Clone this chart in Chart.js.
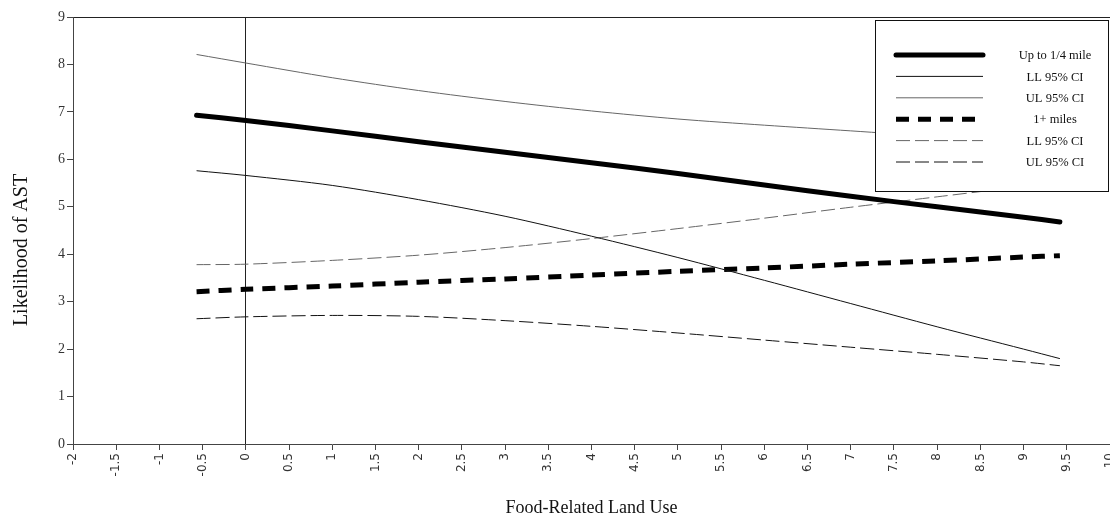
<!DOCTYPE html>
<html>
<head>
<meta charset="utf-8">
<script src="https://cdn.jsdelivr.net/npm/chart.js@4.4.1/dist/chart.umd.min.js"></script>
<style>
  html, body { margin: 0; padding: 0; background: #fff; }
  #wrap { width: 1110px; height: 521px; }
</style>
</head>
<body>
<div id="wrap"><canvas id="chart"></canvas></div>
<script>
// Food-related land use values where the curves were evaluated
const xVals = [-0.57, 0, 1, 2, 3, 4, 5, 6, 7, 8, 9, 9.42];

// Up to 1/4 mile: estimate and 95% CI
const nearEst = [6.93, 6.82, 6.60, 6.37, 6.15, 5.93, 5.70, 5.46, 5.22, 5.00, 4.78, 4.68];
const nearLL  = [5.76, 5.66, 5.45, 5.15, 4.80, 4.38, 3.93, 3.45, 2.96, 2.47, 2.00, 1.80];
const nearUL  = [8.21, 8.03, 7.72, 7.45, 7.22, 7.02, 6.85, 6.72, 6.60, 6.48, 6.38, 6.33];

// 1+ miles: estimate and 95% CI
const farEst = [3.21, 3.26, 3.33, 3.41, 3.48, 3.56, 3.64, 3.71, 3.79, 3.86, 3.94, 3.97];
const farLL  = [3.78, 3.79, 3.87, 3.98, 4.14, 4.33, 4.54, 4.76, 4.99, 5.21, 5.43, 5.52];
const farUL  = [2.64, 2.68, 2.71, 2.69, 2.60, 2.48, 2.34, 2.19, 2.04, 1.89, 1.73, 1.65];

const seriesLabels = ['Up to 1/4 mile', 'LL 95% CI', 'UL 95% CI', '1+ miles', 'LL 95% CI', 'UL 95% CI'];

const yTicks = [0, 1, 2, 3, 4, 5, 6, 7, 8, 9];

function pts(ys) {
    return xVals.map((x, i) => ({ x: x, y: ys[i] }));
}

const serif = "'Liberation Serif', 'Times New Roman', serif";

const datasets = [
    { label: seriesLabels[0], data: pts(nearEst), borderColor: '#000', borderWidth: 5, borderCapStyle: 'round' },
    { label: seriesLabels[1], data: pts(nearLL), borderColor: '#111', borderWidth: 1 },
    { label: seriesLabels[2], data: pts(nearUL), borderColor: '#666', borderWidth: 1 },
    { label: seriesLabels[3], data: pts(farEst), borderColor: '#000', borderWidth: 5, borderDash: [13, 9] },
    { label: seriesLabels[4], data: pts(farLL), borderColor: '#666', borderWidth: 1, borderDash: [14, 5] },
    { label: seriesLabels[5], data: pts(farUL), borderColor: '#111', borderWidth: 1, borderDash: [14, 5] }
].map(d => Object.assign({ pointRadius: 0, fill: false, tension: 0.3 }, d));

// boxed legend in the upper right, like the original figure
const boxLegend = {
    id: 'boxLegend',
    afterDatasetsDraw(chart) {
        const ctx = chart.ctx;
        const area = chart.chartArea;
        const left = area.right - 235, top = area.top + 3, w = 233, h = 171;
        ctx.save();
        ctx.fillStyle = '#fff';
        ctx.fillRect(left, top, w, h);
        ctx.strokeStyle = '#111';
        ctx.lineWidth = 1;
        ctx.strokeRect(left + 0.5, top + 0.5, w, h);
        ctx.font = '12.5px ' + serif;
        ctx.textAlign = 'center';
        ctx.textBaseline = 'middle';
        chart.data.datasets.forEach((ds, i) => {
            const y = top + 35 + i * 21.4;
            ctx.beginPath();
            ctx.strokeStyle = ds.borderColor;
            ctx.lineWidth = ds.borderWidth;
            ctx.lineCap = ds.borderCapStyle || 'butt';
            ctx.setLineDash(ds.borderDash || []);
            ctx.moveTo(left + 21, y);
            ctx.lineTo(left + 108, y);
            ctx.stroke();
            ctx.setLineDash([]);
            ctx.fillStyle = '#111';
            ctx.fillText(ds.label, left + 180, y + 1);
        });
        ctx.restore();
    },
    // y title sits a bit below the middle of the axis in the original
    afterDraw(chart) {
        const ctx = chart.ctx;
        ctx.save();
        ctx.translate(22, 250);
        ctx.rotate(-Math.PI / 2);
        ctx.font = '20px ' + serif;
        ctx.fillStyle = '#111';
        ctx.textAlign = 'center';
        ctx.textBaseline = 'middle';
        ctx.fillText('Likelihood of AST', 0, 0);
        ctx.restore();
    }
};

new Chart(document.getElementById('chart'), {
    type: 'line',
    data: { datasets: datasets },
    options: {
        responsive: true,
        maintainAspectRatio: false,
        animation: false,
        layout: { padding: { top: 17, right: 0, left: 0, bottom: 0 } },
        plugins: { legend: { display: false }, tooltip: { enabled: false } },
        scales: {
            x: {
                type: 'linear',
                min: -2,
                max: 10,
                ticks: {
                    stepSize: 0.5,
                    minRotation: 90,
                    maxRotation: 90,
                    autoSkip: false,
                    padding: 3,
                    color: '#333',
                    font: { family: "'DejaVu Sans', sans-serif", size: 12 },
                    callback: v => String(v)
                },
                grid: {
                    color: c => (c.tick && c.tick.value === 0) ? '#222' : 'rgba(0,0,0,0)',
                    tickColor: '#444',
                    tickLength: 6,
                    drawOnChartArea: true
                },
                border: { display: true, color: '#444', width: 1 },
                title: {
                    display: true,
                    text: 'Food-Related Land Use',
                    color: '#111',
                    font: { family: serif, size: 18 },
                    padding: { top: 0, bottom: 2 }
                },
                afterFit(scale) {
                    scale.height = 77;
                    scale.paddingLeft = 0;
                    scale.paddingRight = 0;
                }
            },
            y: {
                min: 0,
                max: 9,
                afterBuildTicks(scale) {
                    scale.ticks = yTicks.map(v => ({ value: v }));
                },
                ticks: {
                    padding: 2,
                    color: '#333',
                    font: { family: serif, size: 14 }
                },
                grid: {
                    color: c => (c.tick && c.tick.value === 9) ? '#222' : 'rgba(0,0,0,0)',
                    tickColor: '#444',
                    tickLength: 6
                },
                border: { display: true, color: '#444', width: 1 },
                title: { display: false },
                afterFit(scale) {
                    scale.width = 73;
                }
            }
        }
    },
    plugins: [boxLegend]
});
</script>
</body>
</html>
